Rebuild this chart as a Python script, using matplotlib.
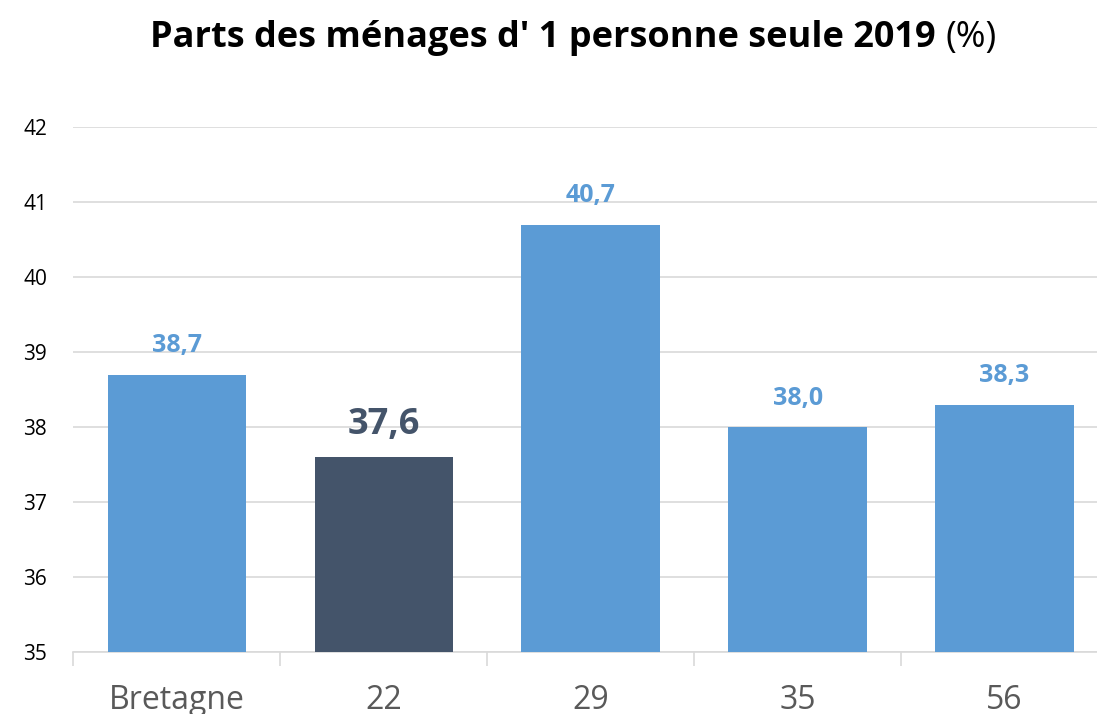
import numpy as np
import matplotlib.pyplot as plt

categories = ['Bretagne', '22', '29', '35', '56']
values = [38.7, 37.6, 40.7, 38.0, 38.3]
labels = ['38,7', '37,6', '40,7', '38,0', '38,3']
highlight = '22'

plt.rcParams['font.family'] = ['Open Sans', 'DejaVu Sans']

fig = plt.figure(figsize=(10.97, 7.14), dpi=100)
# the plot area runs past the right edge of the picture, as in the reference
ax = fig.add_axes([0.067, 0.0868, 0.943, 0.735])

x = np.arange(len(categories))
colors = ['#44546A' if c == highlight else '#5B9BD5' for c in categories]
ax.bar(x, [v - 35 for v in values], bottom=35, width=0.67, color=colors, zorder=3)

for xi, v, lab, c in zip(x, values, labels, categories):
    if c == highlight:
        ax.annotate(lab, (xi, v), xytext=(0, 16.5), textcoords='offset points',
                    ha='center', va='baseline', fontsize=26, fontweight='bold', color='#44546A')
    else:
        ax.annotate(lab, (xi, v), xytext=(0, 16), textcoords='offset points',
                    ha='center', va='baseline', fontsize=18, fontweight='bold', color='#5B9BD5')

ax.set_xlim(-0.5, len(categories) - 0.5)
ax.set_ylim(35, 42)
ax.set_yticks(range(35, 43))
ax.yaxis.grid(True, color='#D9D9D9', linewidth=1.2, zorder=0)
for s in ['top', 'right', 'left']:
    ax.spines[s].set_visible(False)
ax.spines['bottom'].set_color('#D9D9D9')
ax.spines['bottom'].set_linewidth(1.2)
ax.tick_params(axis='y', length=0, labelsize=15, pad=19)
ax.set_xticks(x)
ax.set_xticklabels(categories)
ax.tick_params(axis='x', length=0, labelsize=23, labelcolor='#595959', pad=23)
ax.set_xticks(np.arange(-0.5, len(categories)), minor=True)
ax.tick_params(axis='x', which='minor', length=10, color='#D9D9D9', width=1.2)

t = fig.text(0.853, 0.934, "Parts des ménages d' 1 personne seule 2019", ha='right',
             va='baseline', fontsize=26, fontweight='bold')
ax.annotate('(%)', xy=(1, 0), xycoords=t, xytext=(7, 0), textcoords='offset points',
            ha='left', va='bottom', fontsize=26)

fig.savefig('out.png', dpi=100)
